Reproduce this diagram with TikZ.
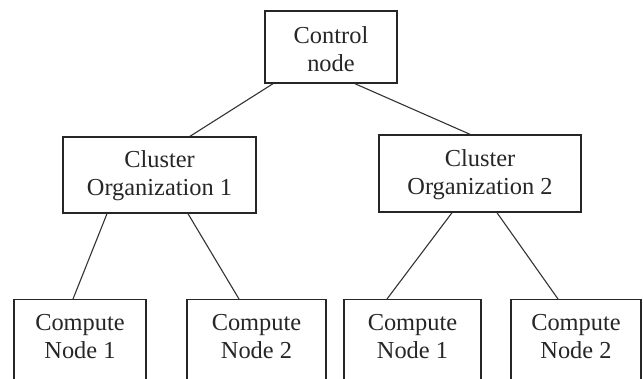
\documentclass[tikz,border=0pt]{standalone}
\usepackage{fontspec}
\setmainfont{Liberation Serif}
\begin{document}
\begin{tikzpicture}[x=1pt,y=-1pt,
  box/.style={draw=black!85, line width=1.4pt, rectangle, inner sep=0pt},
  lbl/.style={align=center, inner sep=0pt, font=\fontsize{24.4}{28}\selectfont, text=black!85},
  link/.style={draw=black!80, line width=1.1pt}]
\useasboundingbox (0,0) rectangle (643,378);
\clip (0,0) rectangle (643,378);
% top and middle boxes
\node[box, minimum width=132pt, minimum height=72pt] (ctrl) at (331,47) {};
\node[lbl] (ctrlt) at (331,49) {Control\\node};
\node[box, minimum width=193pt, minimum height=76pt] (cl1) at (159.5,175) {};
\node[lbl] (cl1t) at (159.5,176) {Cluster\\Organization 1};
\node[box, minimum width=202pt, minimum height=77pt] (cl2) at (480,173.5) {};
\node[lbl] (cl2t) at (480,175) {Cluster\\Organization 2};
% bottom boxes (cut off at the bottom)
\node[box, anchor=north, minimum width=132pt, minimum height=140pt] (cn1) at (80,299) {};
\node[lbl] (cn1t) at (80,337) {Compute\\Node 1};
\node[box, anchor=north, minimum width=139pt, minimum height=140pt] (cn2) at (256.5,299) {};
\node[lbl] (cn2t) at (256.5,337) {Compute\\Node 2};
\node[box, anchor=north, minimum width=137pt, minimum height=140pt] (cn3) at (412.5,299) {};
\node[lbl] (cn3t) at (412.5,337) {Compute\\Node 1};
\node[box, anchor=north, minimum width=130pt, minimum height=140pt] (cn4) at (576,299) {};
\node[lbl] (cn4t) at (576,337) {Compute\\Node 2};
% connectors
\draw[link] ([xshift=-58pt]ctrl.south) -- ([xshift=30.5pt]cl1.north);
\draw[link] ([xshift=24pt]ctrl.south) -- ([xshift=-10pt]cl2.north);
\draw[link] ([xshift=-52.5pt]cl1.south) -- ([xshift=-7pt]cn1.north);
\draw[link] ([xshift=28.5pt]cl1.south) -- ([xshift=-17.5pt]cn2.north);
\draw[link] ([xshift=-28pt]cl2.south) -- ([xshift=-25.5pt]cn3.north);
\draw[link] ([xshift=17pt]cl2.south) -- ([xshift=-18pt]cn4.north);
\end{tikzpicture}
\end{document}
